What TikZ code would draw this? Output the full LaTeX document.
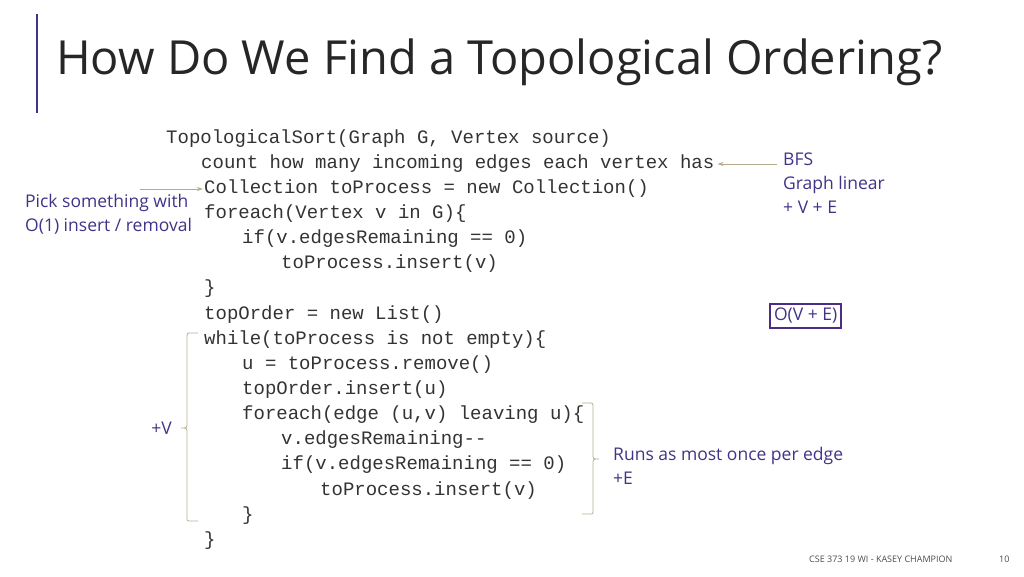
\documentclass[tikz,border=0pt]{standalone}
\usepackage{fontspec}
\setmainfont{Open Sans}
\newfontfamily\codefont{Liberation Mono}
\usetikzlibrary{arrows.meta}
\definecolor{purp}{HTML}{3F3488}
\definecolor{boxp}{HTML}{4B2D86}
\definecolor{tan}{HTML}{B5AC8E}
\tikzset{
  code/.style={anchor=west,inner sep=0pt,font=\codefont\fontsize{19}{20}\selectfont,text=black!80},
  note/.style={inner sep=0pt,font=\fontsize{17.5}{24}\selectfont,text=purp,align=left},
  brk/.style={draw=tan,line width=0.8pt},
  arr/.style={draw=tan,line width=0.8pt,-{Stealth[length=6pt,width=4pt]}}
}
\begin{document}
\begin{tikzpicture}[x=1pt,y=-1pt]
\useasboundingbox (0,0) rectangle (1024,576);
\draw[purp,line width=1.5pt] (37,14) -- (37,113);
\node[anchor=west,inner sep=0pt,font=\fontsize{47}{50}\selectfont,text=black!85] (title) at (56,62) {How Do We Find a Topological Ordering?};
\node[code] (l1) at (166,139) {TopologicalSort(Graph G, Vertex source)};
\node[code] (l2) at (201,164) {count how many incoming edges each vertex has};
\node[code] (l3) at (204,189) {Collection toProcess = new Collection()};
\node[code] (l4) at (204,214) {foreach(Vertex v in G)\{};
\node[code] (l5) at (242,239) {if(v.edgesRemaining == 0)};
\node[code] (l6) at (281,264) {toProcess.insert(v)};
\node[code] (l7) at (204,289) {\}};
\node[code] (l8) at (204,315) {topOrder = new List()};
\node[code] (l9) at (204,340) {while(toProcess is not empty)\{};
\node[code] (l10) at (242,365) {u = toProcess.remove()};
\node[code] (l11) at (242,390) {topOrder.insert(u)};
\node[code] (l12) at (242,415) {foreach(edge (u,v) leaving u)\{};
\node[code] (l13) at (281,440) {v.edgesRemaining-{}-};
\node[code] (l14) at (281,465) {if(v.edgesRemaining == 0)};
\node[code] (l15) at (320,491) {toProcess.insert(v)};
\node[code] (l16) at (242,516) {\}};
\node[code] (l17) at (204,541) {\}};
% right notes
\node[note,anchor=north west] (bfs) at (783,153) {BFS\\Graph linear\\+ V + E};
\draw[arr] (bfs.west |- l2) ++(-6,0) coordinate (bfsa) -- ([xshift=3pt]l2.east);
\node[note,anchor=west] (pick) at (25,214) {Pick something with\\O(1) insert / removal};
\coordinate (pa) at (140,189);
\draw[arr] (pa) -- ([xshift=-1pt]l3.west);
\node[note,draw=boxp,line width=2pt,inner sep=4pt,anchor=west] (ove) at (769,316) {O(V + E)};
% left brace
\node[note,anchor=east] (pv) at (172,428) {+V};
\draw[brk] (198,333) -- (191,333) .. controls (187,333) .. (187,338) -- (187,423) .. controls (187,428) .. (181,428) .. controls (187,428) .. (187,433) -- (187,517) .. controls (187,521) .. (191,521) -- (198,521);
% right brace
\node[note,anchor=north west] (runs) at (613,447) {Runs as most once per edge\\+E};
\draw[brk] (582,403) -- (589,403) .. controls (593,403) .. (593,408) -- (593,454) .. controls (593,459) .. (599,459) .. controls (593,459) .. (593,464) -- (593,510) .. controls (593,514) .. (589,514) -- (582,514);
\node[anchor=west,inner sep=0pt,font=\fontsize{9}{10}\selectfont,text=black!70] (foot) at (809,559) {CSE 373 19 WI - KASEY CHAMPION};
\node[anchor=west,inner sep=0pt,font=\fontsize{9}{10}\selectfont,text=black!70] (pg) at (999,559) {10};
\end{tikzpicture}
\end{document}
